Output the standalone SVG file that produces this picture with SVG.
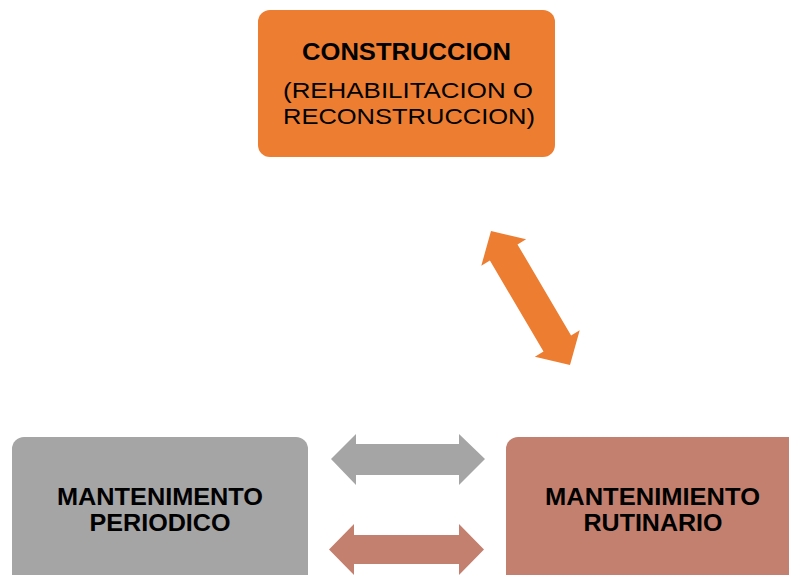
<svg xmlns="http://www.w3.org/2000/svg" width="789" height="575" viewBox="0 0 789 575">
<style>
.t{font-family:"Liberation Sans",Arial,sans-serif;fill:#000;text-anchor:middle}
.b{font-weight:bold;font-size:23px}
.r{font-size:22px}
</style>
<rect width="789" height="575" fill="#fff"/>
<g id="connectors">
<polygon fill="#ED7D31" points="491,231 526.1,239.3 517.5,244.4 571.1,335.4 579.7,330.3 570,365 534.9,356.7 543.5,351.6 489.9,260.6 481.3,265.7"/>
<polygon fill="#A5A5A5" points="331,459 356,434 356,444 459,444 459,434 485,459 459,485 459,475 356,475 356,485"/>
<polygon fill="#C4806F" points="329,549.5 354,524 354,535 459,535 459,524 484,549.5 459,575 459,564 354,564 354,575"/>
</g>
<g id="construccion">
<rect x="258" y="10" width="297" height="147" rx="12" fill="#ED7D31"/>
<text class="t b" x="406.5" y="60" textLength="209" lengthAdjust="spacingAndGlyphs">CONSTRUCCION</text>
<text class="t r" x="408" y="98" textLength="250" lengthAdjust="spacingAndGlyphs">(REHABILITACION  O</text>
<text class="t r" x="409" y="124" textLength="252" lengthAdjust="spacingAndGlyphs">RECONSTRUCCION)</text>
</g>
<g id="periodico">
<rect x="12" y="437" width="296" height="160" rx="12" fill="#A5A5A5"/>
<text class="t b" x="160" y="505" textLength="206" lengthAdjust="spacingAndGlyphs">MANTENIMENTO</text>
<text class="t b" x="160" y="531" textLength="141" lengthAdjust="spacingAndGlyphs">PERIODICO</text>
</g>
<g id="rutinario">
<rect x="506" y="437" width="300" height="160" rx="12" fill="#C4806F"/>
<text class="t b" x="652.5" y="505" textLength="215" lengthAdjust="spacingAndGlyphs">MANTENIMIENTO</text>
<text class="t b" x="653" y="531" textLength="139" lengthAdjust="spacingAndGlyphs">RUTINARIO</text>
</g>
</svg>
